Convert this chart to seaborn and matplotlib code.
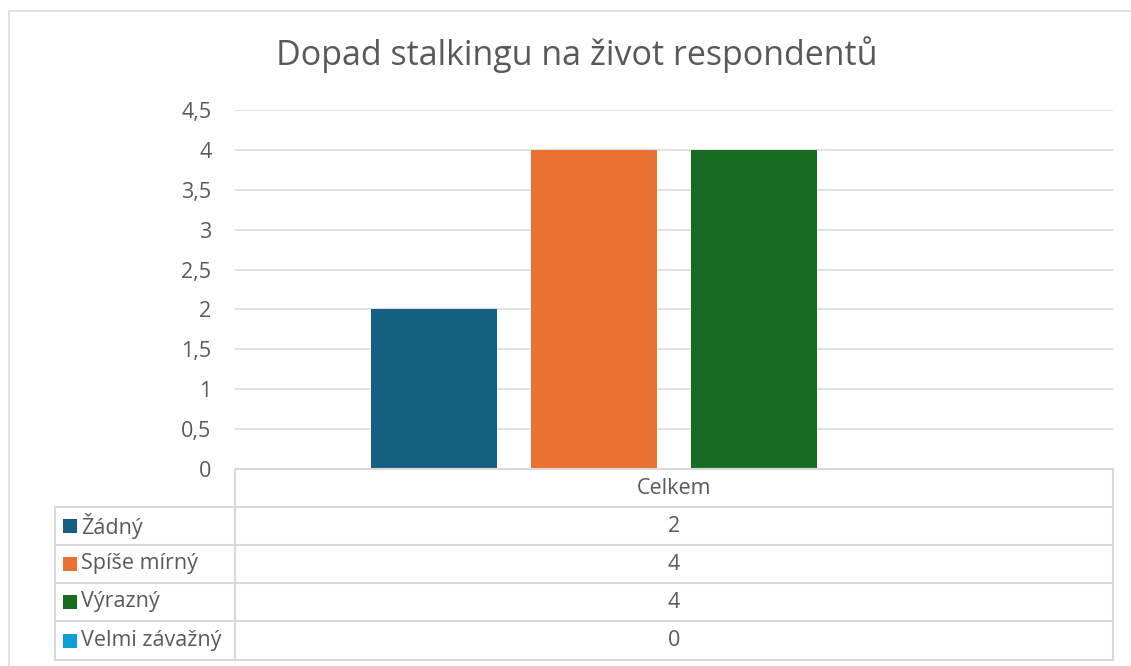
import numpy as np
import pandas as pd
import matplotlib.pyplot as plt
import seaborn as sns
from matplotlib.lines import Line2D
from matplotlib.patches import Rectangle

# data
category = "Celkem"
series = ["Žádný", "Spíše mírný", "Výrazný", "Velmi závažný"]
values = [2, 4, 4, 0]
colors = ["#156082", "#E97132", "#196B24", "#0F9ED5"]
yticks = [0, 0.5, 1, 1.5, 2, 2.5, 3, 3.5, 4, 4.5]
title = "Dopad stalkingu na život respondentů"

df = pd.DataFrame({"kat": [category] * len(series), "serie": series, "hodnota": values})

sns.set_theme(style="white")
plt.rcParams['font.family'] = ['Open Sans', 'DejaVu Sans']
txt = "#595959"
grid = "#d9d9d9"
fs = 15.5

W, H = 1131, 666
fig = plt.figure(figsize=(W / 100, H / 100), dpi=100)

def fx(px):
    return px / W

def fy(py):
    return 1 - py / H

# plot area in pixels
L, R, T, B = 235, 1113, 110, 469
ax = fig.add_axes([fx(L), fy(B), fx(R - L), (B - T) / H])
sns.barplot(data=df, x="kat", y="hodnota", hue="serie", hue_order=series,
            palette=colors, width=0.729, gap=0.2125, saturation=1,
            linewidth=0, legend=False, ax=ax, zorder=3)
ax.set_xlim(-0.5, 0.5)
ax.set_ylim(0, 4.5)
ax.set_yticks(yticks)
ax.set_yticklabels([f"{v:g}".replace(".", ",") for v in yticks])
ax.tick_params(axis="y", length=0, pad=17, labelsize=fs, labelcolor=txt)
ax.set_xticks([])
ax.set_xlabel("")
ax.set_ylabel("")
ax.grid(axis="y", color=grid, linewidth=1.1, zorder=0)
for s in ax.spines.values():
    s.set_visible(False)

# outer chart frame
fig.add_artist(Rectangle((fx(9), fy(700)), fx(1160), (700 - 11) / H,
                         fill=False, edgecolor=grid, linewidth=1.1,
                         transform=fig.transFigure))

# data table
def hline(x0, x1, y):
    fig.add_artist(Line2D([fx(x0), fx(x1)], [fy(y), fy(y)], color=grid, linewidth=1.5))

def vline(x, y0, y1):
    fig.add_artist(Line2D([fx(x), fx(x)], [fy(y0), fy(y1)], color=grid, linewidth=1.5))

rows = [507, 545, 583, 621, 660]
hline(L, R, B)
for y in rows:
    hline(55, R, y)
vline(L, B, rows[-1])
vline(R, B, rows[-1])
vline(55, rows[0], rows[-1])

fig.text(fx((L + R) / 2), fy((B + rows[0]) / 2), category, ha="center", va="center",
         fontsize=fs, color=txt)
for i, (name, val, c) in enumerate(zip(series, values, colors)):
    yc = (rows[i] + rows[i + 1]) / 2
    fig.add_artist(Rectangle((fx(63), fy(yc + 7)), fx(14), 14 / H, facecolor=c,
                             edgecolor="none", transform=fig.transFigure))
    fig.text(fx(81), fy(yc), name, ha="left", va="center", fontsize=fs, color=txt)
    fig.text(fx((L + R) / 2), fy(yc), str(val), ha="center", va="center",
             fontsize=fs, color=txt)

fig.text(fx(577), fy(55), title, ha="center", va="center", fontsize=24.5, color=txt)

fig.savefig("out.png", dpi=100, facecolor="white")
